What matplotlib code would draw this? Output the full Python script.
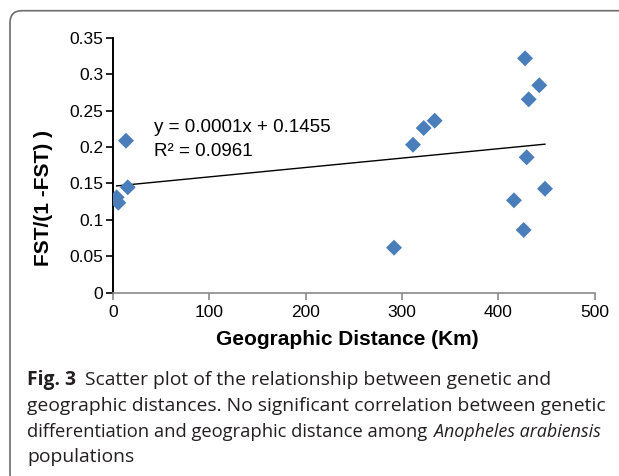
import numpy as np
import matplotlib
matplotlib.use("Agg")
import matplotlib.pyplot as plt
from matplotlib.patches import FancyBboxPatch
from matplotlib.transforms import IdentityTransform

# Geographic distance (km) vs FST/(1-FST)
distance_km = [13.5, 15.3, 3.8, 5.5, 427.7, 442.5, 431.5, 333.9, 322.5,
               311.4, 429.4, 448.4, 416.2, 426.3, 291.7]
fst_ratio = [0.2086, 0.1447, 0.1309, 0.1235, 0.3217, 0.2847, 0.2654, 0.2361,
             0.2260, 0.2031, 0.1858, 0.1427, 0.1268, 0.0861, 0.0618]

x_ticks = [0, 100, 200, 300, 400, 500]
y_ticks = [0, 0.05, 0.1, 0.15, 0.2, 0.25, 0.3, 0.35]
y_tick_labels = ["0", "0.05", "0.1", "0.15", "0.2", "0.25", "0.3", "0.35"]

eq_text = "y = 0.0001x + 0.1455"
r2_text = "R² = 0.0961"

plt.rcParams["font.family"] = ["Liberation Sans", "DejaVu Sans"]

W, H = 619, 476
fig = plt.figure(figsize=(W / 100, H / 100), dpi=100)
ax = fig.add_axes([113 / W, 1 - 292.7 / H, (594.7 - 113) / W, (292.7 - 37.7) / H])

ax.scatter(distance_km, fst_ratio, marker="D", s=66, color="#4a7ebb",
           edgecolors="none", zorder=3)

# linear trend line over the data range
slope, intercept = np.polyfit(distance_km, fst_ratio, 1)
xs = np.array([min(distance_km), max(distance_km)])
ax.plot(xs, slope * xs + intercept, color="black", lw=1)

ax.set_xlim(0, 500)
ax.set_ylim(0, 0.35)
ax.set_xticks(x_ticks)
ax.set_yticks(y_ticks)
ax.set_yticklabels(y_tick_labels)

for s in ["top", "right"]:
    ax.spines[s].set_visible(False)
ax.spines["left"].set_color("black")
ax.spines["left"].set_linewidth(1.4)
ax.spines["bottom"].set_color("#8a8a8a")
ax.spines["bottom"].set_linewidth(1.2)
ax.tick_params(axis="x", colors="#8a8a8a", length=5, width=1.2,
               labelcolor="black", labelsize=12.5, pad=4)
ax.tick_params(axis="y", length=5, width=1.2, labelsize=12.5, pad=2)

ax.set_xlabel("Geographic Distance (Km)", fontweight="bold", fontsize=15)
ax.set_ylabel("FST/(1 -FST) )", fontweight="bold", fontsize=15)
ax.xaxis.set_label_coords(0.486, -0.148)
ax.yaxis.set_label_coords(-0.125, 0.371)

ax.text(154 / W, 1 - 127 / H, eq_text, transform=fig.transFigure,
        fontsize=13.5, va="center")
ax.text(154 / W, 1 - 152 / H, r2_text, transform=fig.transFigure,
        fontsize=13.5, va="center")

# caption
cap_size = 13.9
x0 = 27
lines_y = [380, 406, 432, 457]
fig.canvas.draw()
renderer = fig.canvas.get_renderer()


def put(x, y, s, family="Open Sans", size=cap_size, **kw):
    t = fig.text(x / W, 1 - y / H, s, family=family, fontsize=size,
                 va="center", color="#231f20", **kw)
    bb = t.get_window_extent(renderer=renderer)
    return t, x + bb.width


def fit(t, x, end, target):
    # the original caption face is narrower; shrink this piece to its width
    t.set_fontsize(t.get_fontsize() * (target - x) / (end - x))


_, nx = put(x0, lines_y[0], "Fig. 3", fontweight="bold")
put(nx + 9, lines_y[0], "Scatter plot of the relationship between genetic and")
put(x0, lines_y[1], "geographic distances. No significant correlation between genetic")
reg, end = put(x0, lines_y[2], "differentiation and geographic distance among")
fit(reg, x0, end, 427)
it, end = put(434, lines_y[2], "Anopheles arabiensis", style="italic")
fit(it, 434, end, 601)
put(x0, lines_y[3], "populations")

# rounded frame, only the top-left corner is visible
frame = FancyBboxPatch((10, -10), 700, H - 10.7 + 10,
                       boxstyle="round,pad=0,rounding_size=12",
                       transform=IdentityTransform(), fill=False,
                       edgecolor="#6d6d6d", lw=1.2)
fig.add_artist(frame)

fig.savefig("out.png", dpi=100)
